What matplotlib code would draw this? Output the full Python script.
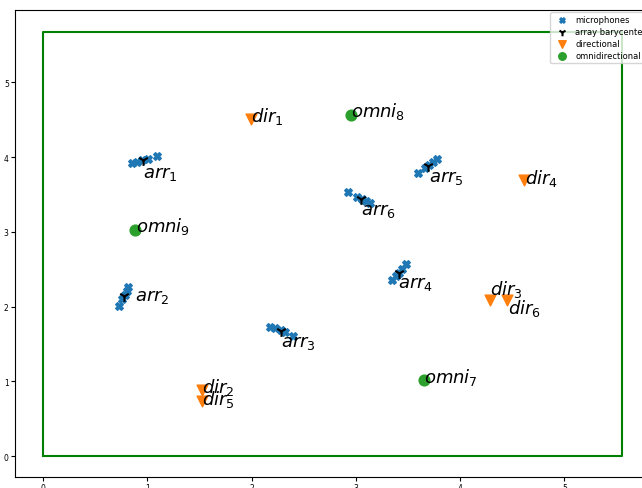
import numpy as np
import matplotlib
matplotlib.use("Agg")
import matplotlib.pyplot as plt

# Room outline
room_x = [0.0, 5.55, 5.55, 0.0, 0.0]
room_y = [0.0, 0.0, 5.68, 5.68, 0.0]

# Microphone arrays (x, y of each mic)
arr_names = ["arr_1", "arr_2", "arr_3", "arr_4", "arr_5", "arr_6"]
arr_mics_x = [
    [0.853, 0.901, 0.949, 1.007, 1.093],
    [0.729, 0.757, 0.786, 0.805, 0.815],
    [2.176, 2.224, 2.280, 2.320, 2.397],
    [3.346, 3.385, 3.413, 3.442, 3.480],
    [3.595, 3.662, 3.701, 3.739, 3.778],
    [2.924, 3.011, 3.059, 3.097, 3.135],
]
arr_mics_y = [
    [3.917, 3.930, 3.957, 3.971, 4.011],
    [2.005, 2.099, 2.152, 2.206, 2.259],
    [1.725, 1.711, 1.684, 1.658, 1.604],
    [2.353, 2.406, 2.446, 2.500, 2.567],
    [3.783, 3.850, 3.890, 3.930, 3.971],
    [3.529, 3.463, 3.436, 3.409, 3.382],
]
# Array label anchors (text baseline)
arr_label_x = [0.96, 0.88, 2.28, 3.40, 3.70, 3.05]
arr_label_y = [3.74, 2.085, 1.47, 2.26, 3.68, 3.235]

# Directional sources
dir_names = ["dir_1", "dir_2", "dir_3", "dir_4", "dir_5", "dir_6"]
dir_x = [1.99, 1.52, 4.29, 4.61, 1.52, 4.45]
dir_y = [4.51, 0.88, 2.09, 3.69, 0.735, 2.09]
dir_label_x = [1.99, 1.52, 4.29, 4.62, 1.52, 4.46]
dir_label_y = [4.48, 0.856, 2.166, 3.65, 0.695, 1.91]

# Omnidirectional sources
omni_names = ["omni_7", "omni_8", "omni_9"]
omni_x = [3.65, 2.95, 0.88]
omni_y = [1.02, 4.57, 3.02]
omni_label_x = [3.65, 2.95, 0.89]
omni_label_y = [0.99, 4.545, 3.01]

fig = plt.figure(figsize=(6.42, 4.89), dpi=100)
W, H = 642, 489
ax = fig.add_axes([15 / W, 11 / H, 635 / W, 467 / H])

ax.plot(room_x, room_y, color="green", linewidth=1.5)

FS = 13
for k, (mx, my) in enumerate(zip(arr_mics_x, arr_mics_y)):
    ax.scatter(mx, my, marker="X", s=30, color="#1f77b4",
               label="microphones" if k == 0 else None, zorder=3)
for k, (mx, my) in enumerate(zip(arr_mics_x, arr_mics_y)):
    bx, by = np.mean(mx), np.mean(my)
    ax.scatter([bx], [by], marker="1", s=60, color="black",
               label="array barycenters" if k == 0 else None, zorder=4)
    ax.text(arr_label_x[k], arr_label_y[k], "$" + arr_names[k] + "$",
            fontsize=FS, ha="left", va="baseline")

ax.scatter(dir_x, dir_y, marker="v", s=60, color="#ff7f0e", label="directional", zorder=3)
for n, x, y in zip(dir_names, dir_label_x, dir_label_y):
    ax.text(x, y, "$" + n + "$", fontsize=FS, ha="left", va="baseline")

ax.scatter(omni_x, omni_y, marker="o", s=60, color="#2ca02c", label="omnidirectional", zorder=3)
for n, x, y in zip(omni_names, omni_label_x, omni_label_y):
    ax.text(x, y, "$" + n + "$", fontsize=FS, ha="left", va="baseline")

ax.set_xlim(-0.27, 5.82)
ax.set_ylim(-0.28, 5.97)
ax.set_xticks([0, 1, 2, 3, 4, 5])
ax.set_yticks([0, 1, 2, 3, 4, 5])
ax.tick_params(labelsize=5.5, length=3, pad=1.5)

ax.legend(loc="upper left", bbox_to_anchor=(550 / W, 1 - 13 / H),
          bbox_transform=fig.transFigure, borderaxespad=0, fontsize=6,
          markerscale=0.7, labelspacing=0.35, handletextpad=0.6)

fig.savefig("out.png", dpi=100)
